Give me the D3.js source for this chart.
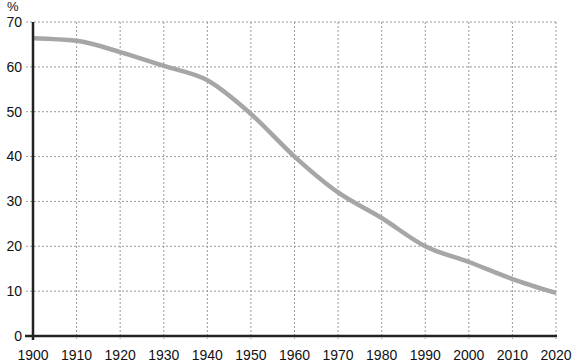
<!DOCTYPE html>
<html><head><meta charset="utf-8">
<script src="https://cdn.jsdelivr.net/npm/d3@7"></script>
<style>body{margin:0;background:#fff}</style>
</head><body>
<svg id="c" width="574" height="364"></svg>
<script>
const years = [1900,1910,1920,1930,1940,1950,1960,1970,1980,1990,2000,2010,2020];
const values = [66.4,65.8,63.3,60.2,57.0,49.5,40.0,32.0,26.3,20.0,16.5,12.7,9.6];
const yTicks = [0,10,20,30,40,50,60,70];

const svg = d3.select("#c");
const x = d3.scaleLinear().domain([1900,2020]).range([33,556]);
const y = d3.scaleLinear().domain([0,70]).range([336,22]);
const font = "Liberation Sans, Arial, sans-serif";

// grid
svg.append("g").selectAll("line").data(yTicks.filter(d=>d>0)).join("line")
  .attr("x1",26).attr("x2",x(2020)).attr("y1",d=>y(d)).attr("y2",d=>y(d))
  .attr("stroke","#999").attr("stroke-width",1).attr("stroke-dasharray","2,2");
svg.append("g").selectAll("line").data(years.filter(d=>d>1900)).join("line")
  .attr("x1",d=>x(d)).attr("x2",d=>x(d)).attr("y1",y(70)).attr("y2",y(0)+3)
  .attr("stroke","#999").attr("stroke-width",1).attr("stroke-dasharray","2,2");

// data line
svg.append("path").datum(years.map((d,i)=>[d,values[i]]))
  .attr("d",d3.line().x(d=>x(d[0])).y(d=>y(d[1])).curve(d3.curveMonotoneX))
  .attr("fill","none").attr("stroke","#a6a6a6").attr("stroke-width",4.5);

// axes
svg.append("line").attr("x1",x(1900)).attr("x2",x(1900)).attr("y1",y(70)).attr("y2",y(0)+4)
  .attr("stroke","#222").attr("stroke-width",2.5);
svg.append("line").attr("x1",25).attr("x2",x(2020)+1).attr("y1",y(0)).attr("y2",y(0))
  .attr("stroke","#222").attr("stroke-width",2.5);

// labels
svg.append("g").selectAll("text").data(yTicks).join("text")
  .attr("x",22).attr("y",d=>y(d)).attr("dy","0.35em").attr("text-anchor","end")
  .attr("font-family",font).attr("font-size",14).attr("fill","#111").text(d=>d);
svg.append("g").selectAll("text").data(years).join("text")
  .attr("x",d=>x(d)).attr("y",360).attr("text-anchor","middle")
  .attr("font-family",font).attr("font-size",14).attr("fill","#111").text(d=>d);
svg.append("text").attr("x",7).attr("y",11).attr("font-family",font).attr("font-size",13)
  .attr("fill","#111").text("%");
</script>
</body></html>
